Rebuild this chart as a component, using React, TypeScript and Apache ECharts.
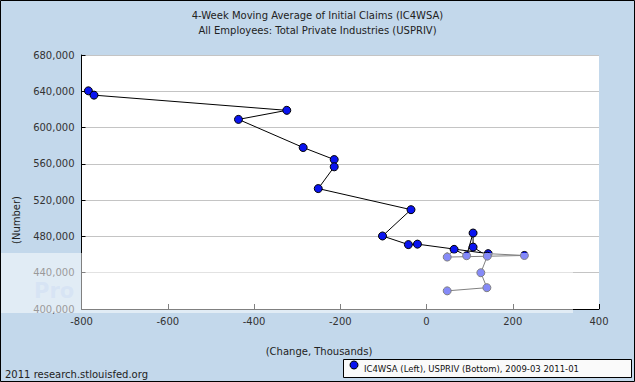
import React, { useEffect, useRef } from "react";
import * as echarts from "echarts";

const months = [
  "2009-03", "2009-04", "2009-05", "2009-06", "2009-07", "2009-08", "2009-09", "2009-10",
  "2009-11", "2009-12", "2010-01", "2010-02", "2010-03", "2010-04", "2010-05", "2010-06",
  "2010-07", "2010-08", "2010-09", "2010-10", "2010-11", "2010-12", "2011-01",
];
const usprivChange = [
  -784, -771, -324, -436, -286, -214, -214, -251, -36, -102, -42, -21,
  143, 227, 48, 64, 93, 108, 108, 141, 126, 140, 48,
];
const ic4wsa = [
  640500, 635750, 619000, 609000, 578000, 564750, 556750, 532750, 509500, 480500, 471000, 471500,
  461000, 459000, 457250, 465750, 458750, 483750, 468250, 458250, 440000, 423500, 420000,
];
const titleLines = [
  "4-Week Moving Average of Initial Claims (IC4WSA)",
  "All Employees: Total Private Industries (USPRIV)",
];
const legendText = "IC4WSA (Left), USPRIV (Bottom), 2009-03 2011-01";
const footerText = "2011 research.stlouisfed.org";
const xName = "(Change, Thousands)";
const yName = "(Number)";

const FONT = "DejaVu Sans";

export default function App() {
  const ref = useRef<HTMLDivElement>(null);
  useEffect(() => {
    if (!ref.current) return;
    const chart = echarts.init(ref.current, null, { renderer: "svg" });
    const data = usprivChange.map((x, i) => [x, ic4wsa[i], months[i]]);
    chart.setOption({
      animation: false,
      backgroundColor: "#c3d8eb",
      textStyle: { fontFamily: FONT },
      grid: {
        left: 81.5,
        right: 36,
        top: 55,
        bottom: 73,
        show: true,
        backgroundColor: "#ffffff",
        borderWidth: 0,
      },
      xAxis: {
        type: "value",
        min: -800,
        max: 400,
        interval: 200,
        axisLine: { show: true, onZero: false, lineStyle: { color: "#000", width: 1 } },
        axisTick: { show: true, inside: true, length: 5, lineStyle: { color: "#000" } },
        axisLabel: { color: "#333", fontSize: 10, fontFamily: FONT, margin: 7 },
        splitLine: { show: false },
      },
      yAxis: {
        type: "value",
        min: 400000,
        max: 680000,
        interval: 40000,
        axisLine: { show: true, onZero: false, lineStyle: { color: "#000", width: 1 } },
        axisTick: { show: true, inside: true, length: 4, lineStyle: { color: "#000" } },
        axisLabel: {
          color: "#333",
          fontSize: 10,
          fontFamily: FONT,
          margin: 7,
          formatter: (v: number) => v.toLocaleString("en-US"),
        },
        splitLine: { show: true, lineStyle: { color: "#c4c4c4", width: 1 } },
      },
      series: [
        {
          type: "line",
          data,
          symbol: "circle",
          symbolSize: 8,
          itemStyle: { color: "#0a14f0", borderColor: "#000", borderWidth: 1 },
          lineStyle: { color: "#000", width: 1 },
        },
      ],
      graphic: [
        {
          type: "text",
          left: "center",
          top: 10,
          style: { text: titleLines[0], font: `10px '${FONT}'`, fill: "#222" },
        },
        {
          type: "text",
          left: "center",
          top: 25,
          style: { text: titleLines[1], font: `10px '${FONT}'`, fill: "#222" },
        },
        {
          type: "text",
          x: 16,
          y: 220,
          rotation: Math.PI / 2,
          style: {
            text: yName,
            font: `10px '${FONT}'`,
            fill: "#222",
            align: "center",
            verticalAlign: "middle",
          },
        },
        {
          type: "text",
          x: 319,
          y: 351,
          style: {
            text: xName,
            font: `10px '${FONT}'`,
            fill: "#222",
            align: "center",
            verticalAlign: "middle",
          },
        },
        {
          type: "text",
          x: 5,
          y: 374,
          style: {
            text: footerText,
            font: `10px '${FONT}'`,
            fill: "#222",
            align: "left",
            verticalAlign: "middle",
          },
        },
        {
          type: "rect",
          shape: { x: 343.5, y: 359.5, width: 288, height: 18 },
          style: { fill: "#fafafa", stroke: "#000", lineWidth: 1 },
        },
        {
          type: "circle",
          shape: { cx: 354, cy: 365, r: 4 },
          style: { fill: "#0a14f0", stroke: "#000", lineWidth: 1 },
        },
        {
          type: "text",
          x: 364,
          y: 369,
          style: {
            text: legendText,
            font: `8.5px '${FONT}'`,
            fill: "#111",
            align: "left",
            verticalAlign: "middle",
          },
        },
        {
          type: "text",
          x: 34,
          y: 291,
          z: 90,
          style: {
            text: "Pro",
            font: `bold 21px '${FONT}'`,
            lineHeight: 21,
            fill: "rgba(150,180,230,0.45)",
            align: "left",
            verticalAlign: "middle",
          },
        },
        {
          type: "rect",
          z: 100,
          shape: { x: 0, y: 253, width: 573, height: 60 },
          style: { fill: "rgba(255,255,255,0.5)" },
        },
        {
          type: "rect",
          z: 110,
          shape: { x: 0.5, y: 0.5, width: 634, height: 381 },
          style: { fill: "none", stroke: "#000", lineWidth: 1 },
        },
      ],
    });
    return () => chart.dispose();
  }, []);
  return (
    <div
      ref={ref}
      style={{ position: "fixed", left: 0, top: 0, width: 635, height: 382 }}
    />
  );
}
